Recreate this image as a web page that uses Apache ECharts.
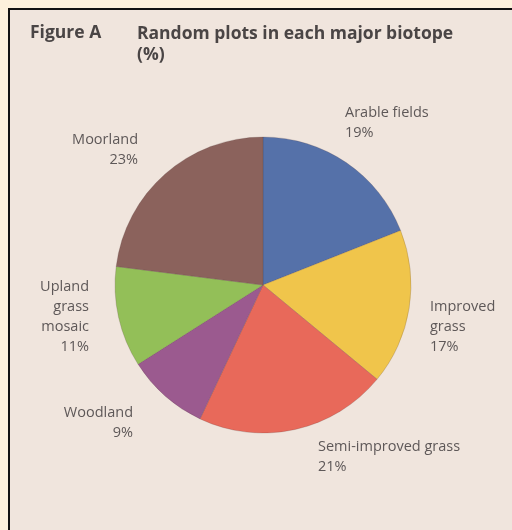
<!DOCTYPE html>
<html>
<head>
<meta charset="utf-8">
<script src="https://cdn.jsdelivr.net/npm/echarts@6/dist/echarts.min.js"></script>
<style>
  html, body { margin: 0; padding: 0; background: #fcf0dc; }
  #frame {
    position: absolute; left: 8px; top: 8px; width: 520px; height: 540px;
    border: 2px solid #111; background: #f0e5dd;
  }
  #chart { position: absolute; left: 0; top: 0; width: 512px; height: 530px; }
</style>
</head>
<body>
<div id="frame"></div>
<div id="chart"></div>
<script>
  // biotope shares (%)
  var biotopes = ['Arable fields', 'Improved\ngrass', 'Semi-improved grass', 'Woodland', 'Upland\ngrass\nmosaic', 'Moorland'];
  var shares = [19, 17, 21, 9, 11, 23];
  var colors = ['#5571a9', '#f0c54b', '#e8695a', '#9b5a8f', '#93bf58', '#8b625c'];

  // where each label sits (anchor, alignment)
  var labelPos = [
    {x: 345, y: 103, align: 'left'},
    {x: 430, y: 297, align: 'left'},
    {x: 318, y: 437, align: 'left'},
    {x: 133, y: 403, align: 'right'},
    {x: 89, y: 277, align: 'right'},
    {x: 138, y: 130, align: 'right'}
  ];

  var chart = echarts.init(document.getElementById('chart'));
  var textFont = 'Open Sans';

  chart.setOption({
    animation: false,
    graphic: [
      {type: 'text', left: 30, top: 24, style: {text: 'Figure A', font: 'bold 17.5px ' + textFont, fill: '#4a4545'}},
      {type: 'text', left: 137, top: 24, style: {text: 'Random plots in each major biotope\n(%)', font: 'bold 17.5px ' + textFont, fill: '#4a4545', lineHeight: 21}}
    ],
    series: [{
      type: 'pie',
      center: [263, 285],
      radius: [0, 148],
      startAngle: 90,
      clockwise: true,
      silent: true,
      itemStyle: {borderColor: 'rgba(80,60,60,0.35)', borderWidth: 0.6},
      label: {
        show: true,
        position: 'outside',
        overflow: 'none',
        formatter: function (p) { return p.name + '\n' + p.value + '%'; },
        fontFamily: textFont,
        fontSize: 14.5,
        lineHeight: 20,
        color: '#5e5858'
      },
      labelLine: {show: false},
      labelLayout: function (params) {
        var p = labelPos[params.dataIndex];
        return {x: p.x, y: p.y, align: p.align, verticalAlign: 'top'};
      },
      data: biotopes.map(function (name, i) {
        return {name: name, value: shares[i], itemStyle: {color: colors[i]}};
      })
    }]
  });
</script>
</body>
</html>
